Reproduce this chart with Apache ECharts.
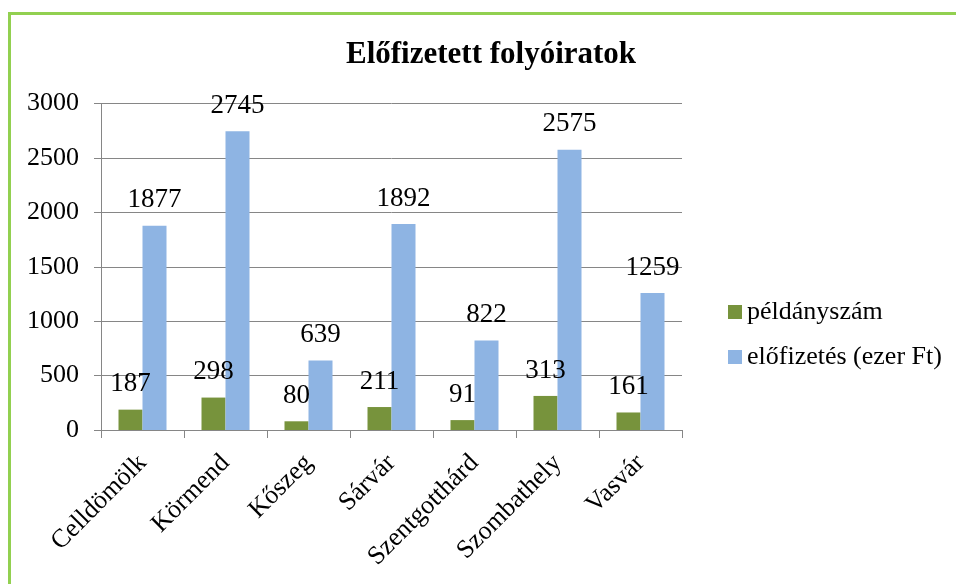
<!DOCTYPE html>
<html>
<head>
<meta charset="utf-8">
<script src="https://cdn.jsdelivr.net/npm/echarts@6/dist/echarts.min.js"></script>
<style>
  html, body { margin: 0; padding: 0; background: #fff; overflow: hidden; }
  .frame {
    position: absolute; left: 8px; top: 12px; width: 1100px; height: 800px;
    border-top: 3px solid #92D050; border-left: 3px solid #92D050;
  }
  #myChart { position: absolute; left: 0; top: 0; width: 956px; height: 584px; }
</style>
</head>
<body>
<div class="frame"></div>
<div id="myChart"></div>
<script>
// adatok
var varosok = ['Celldömölk', 'Körmend', 'Kőszeg', 'Sárvár', 'Szentgotthárd', 'Szombathely', 'Vasvár']
var peldanyszam = [187, 298, 80, 211, 91, 313, 161]
var elofizetes = [1877, 2745, 639, 1892, 822, 2575, 1259]
var serif = 'Liberation Serif'

var option = {
  title: {
    text: 'Előfizetett folyóiratok',
    left: 341,
    top: 34,
    textStyle: { fontFamily: serif, fontSize: 31, fontWeight: 'bold', color: '#000' }
  },
  legend: {
    orient: 'vertical',
    left: 723,
    top: 294,
    itemWidth: 14,
    itemHeight: 14,
    itemGap: 19,
    icon: 'rect',
    textStyle: { fontFamily: serif, fontSize: 26, color: '#000', lineHeight: 26 },
    data: ['példányszám', 'előfizetés (ezer Ft)']
  },
  grid: { left: 101, right: 274, top: 103.5, bottom: 154 },
  xAxis: {
    type: 'category',
    data: varosok,
    axisLine: { lineStyle: { color: '#868686', width: 1 } },
    axisTick: { show: true, length: 8, lineStyle: { color: '#868686' } },
    axisLabel: { rotate: 45, margin: 29, fontFamily: serif, fontSize: 26, color: '#000', interval: 0 }
  },
  yAxis: {
    type: 'value',
    min: 0,
    max: 3000,
    interval: 500,
    axisLine: { show: true, lineStyle: { color: '#868686', width: 1 } },
    axisTick: { show: true, length: 7, lineStyle: { color: '#868686' } },
    splitLine: { lineStyle: { color: '#868686', width: 1 } },
    axisLabel: {
      margin: 22, fontFamily: serif, fontSize: 26, color: '#000',
      formatter: function (v) { return String(v) }
    }
  },
  series: [{
    name: 'példányszám',
    type: 'bar',
    data: peldanyszam,
    barWidth: 24,
    barGap: '0%',
    itemStyle: { color: '#77933C' },
    label: { show: true, position: 'top', distance: 12, fontFamily: serif, fontSize: 27, color: '#000' }
  }, {
    name: 'előfizetés (ezer Ft)',
    type: 'bar',
    data: elofizetes,
    barWidth: 24,
    barGap: '0%',
    itemStyle: { color: '#8EB4E3' },
    label: { show: true, position: 'top', distance: 12, fontFamily: serif, fontSize: 27, color: '#000' }
  }]
}

var myChart = echarts.init(document.getElementById('myChart'))
myChart.setOption(option)
</script>
</body>
</html>
